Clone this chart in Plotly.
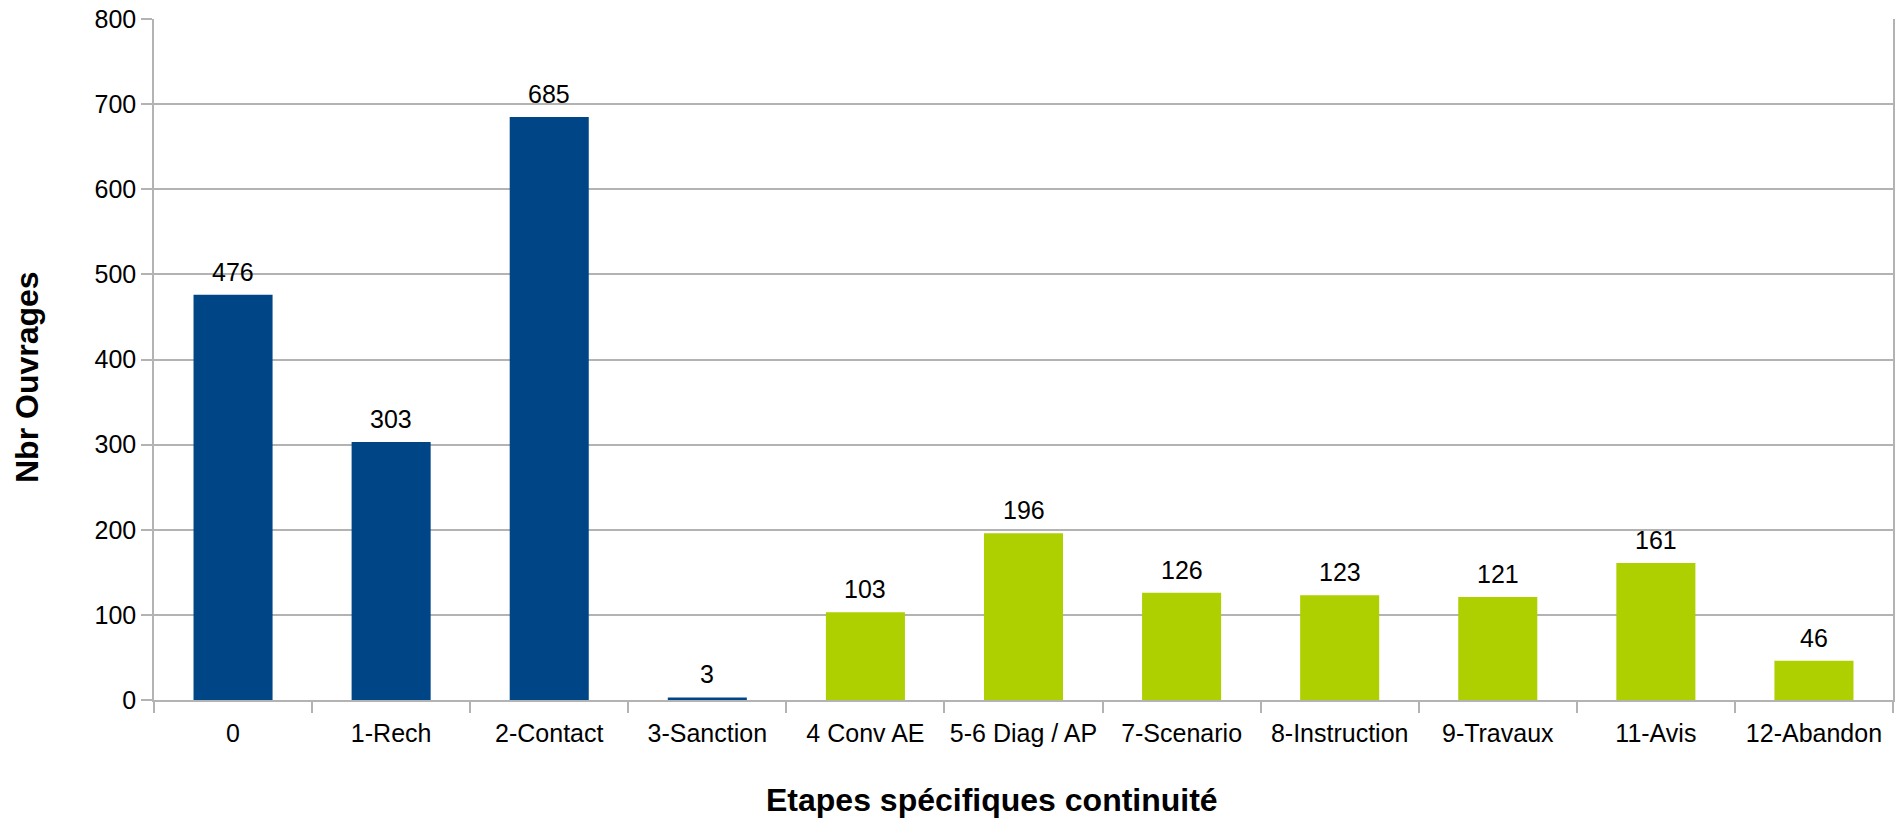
import plotly.graph_objects as go

categories = ["0", "1-Rech", "2-Contact", "3-Sanction", "4 Conv AE", "5-6 Diag / AP",
              "7-Scenario", "8-Instruction", "9-Travaux", "11-Avis", "12-Abandon"]
values = [476, 303, 685, 3, 103, 196, 126, 123, 121, 161, 46]
groups = ["a", "a", "a", "a", "b", "b", "b", "b", "b", "b", "b"]
group_colors = {"a": "#004586", "b": "#aecf00"}
y_ticks = [0, 100, 200, 300, 400, 500, 600, 700, 800]

FONT = "Liberation Sans, Arial, sans-serif"
GRID = "#b3b3b3"
W, H = 1903, 818
L, R, T, B = 154, 10, 19, 118

fig = go.Figure()
fig.add_trace(go.Bar(
    x=categories, y=values,
    marker=dict(color=[group_colors[g] for g in groups], line=dict(width=0)),
    hoverinfo="x+y",
))

annotations = []
for c, v in zip(categories, values):
    annotations.append(dict(x=c, y=v, xref="x", yref="y", text=str(v), showarrow=False,
                            yanchor="bottom", yshift=7, font=dict(family=FONT, size=25, color="black")))

annotations.append(dict(x=(992 - L) / (W - R - L), xref="paper", y=0, yref="paper",
                        text="<b>Etapes spécifiques continuité</b>",
                        showarrow=False, xanchor="center", yanchor="middle", yshift=-(800 - (H - B)),
                        font=dict(family=FONT, size=32, color="black")))
annotations.append(dict(x=0, xref="paper", y=(H - B - 377) / (H - B - T), yref="paper",
                        text="<b>Nbr Ouvrages</b>",
                        showarrow=False, xanchor="center", yanchor="middle", xshift=-(L - 27), textangle=-90,
                        font=dict(family=FONT, size=32, color="black")))

fig.update_layout(
    width=W, height=H,
    margin=dict(l=L, r=R, t=T, b=B, autoexpand=False),
    paper_bgcolor="white", plot_bgcolor="white",
    bargap=0.5,
    showlegend=False,
    font=dict(family=FONT, size=25, color="black"),
    annotations=annotations,
    xaxis=dict(
        type="category", showgrid=False, showline=True, linecolor=GRID, linewidth=1.5,
        ticks="outside", tickson="boundaries", ticklen=11, tickcolor=GRID, tickwidth=1.5,
        ticklabelstandoff=10,
        tickfont=dict(family=FONT, size=25, color="black"), mirror=False,
    ),
    yaxis=dict(
        range=[0, 800], tickvals=y_ticks, showgrid=True, gridcolor=GRID, gridwidth=1.5,
        zeroline=False, showline=True, linecolor=GRID, linewidth=1.5, mirror=True,
        ticks="outside", ticklen=11, tickcolor=GRID, tickwidth=1.5,
        tickfont=dict(family=FONT, size=25, color="black"),
    ),
)

fig.write_html("out.html", config={"displayModeBar": False},
               post_script="document.body.style.margin='0px';document.body.style.overflow='hidden';")
